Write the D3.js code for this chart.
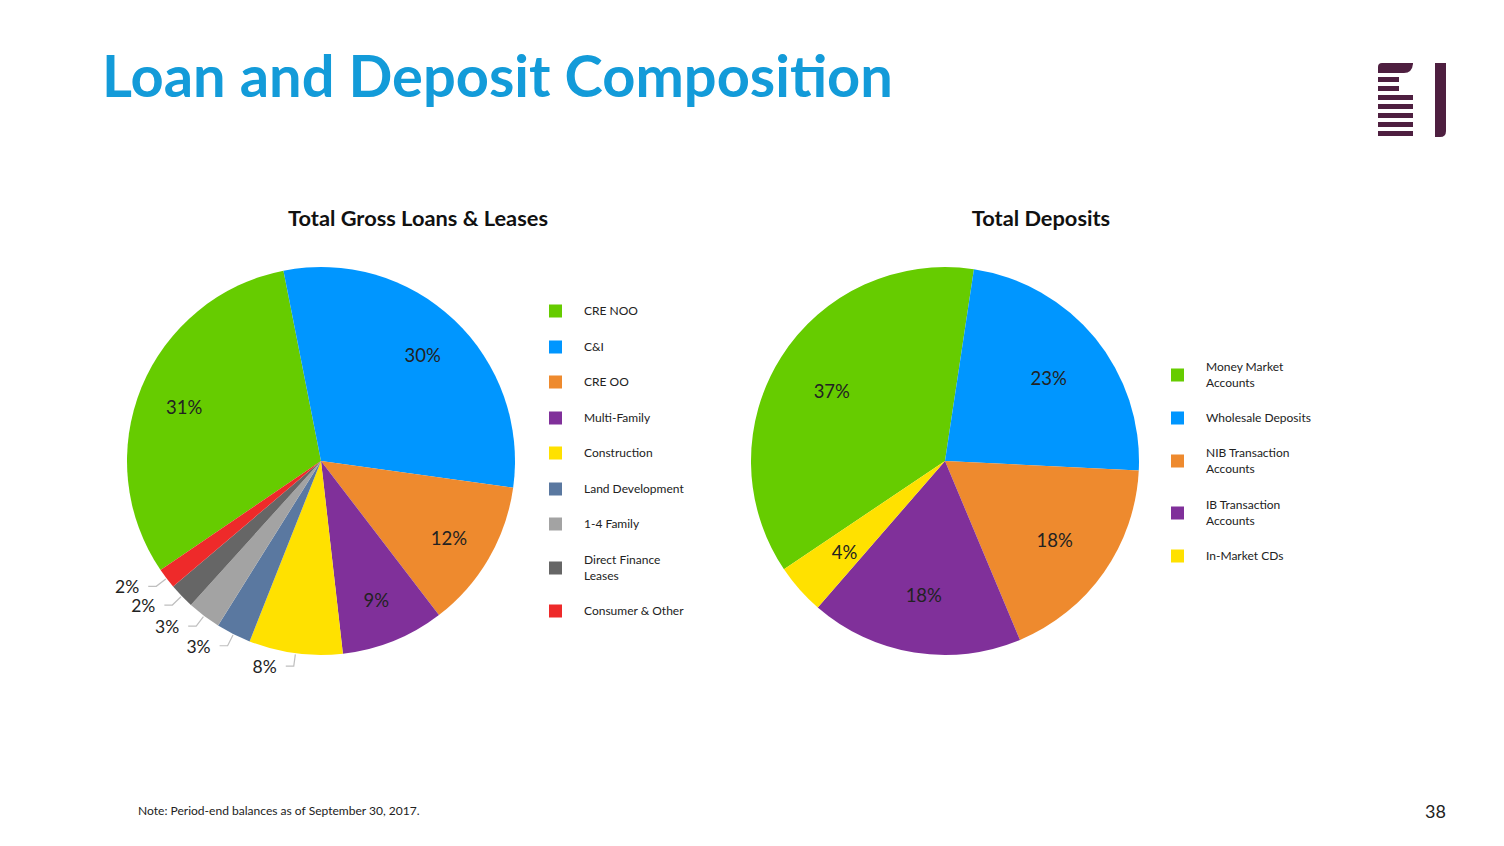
<!DOCTYPE html>
<html>
<head>
<meta charset="utf-8">
<script src="https://cdn.jsdelivr.net/npm/d3@7/dist/d3.min.js"></script>
<style>
html,body{margin:0;padding:0;background:#fff;}
svg{display:block;font-family:Lato,"Open Sans",sans-serif;}
</style>
</head>
<body>
<svg id="c" width="1504" height="846"></svg>
<script>
const loanCategories = ["CRE NOO","C&I","CRE OO","Multi-Family","Construction","Land Development","1-4 Family","Direct Finance Leases","Consumer & Other"];
const loanValues = [31.4,30.3,12.4,8.6,7.8,2.9,2.8,2.1,1.7];
const loanColors = ["#66CC00","#0096FF","#EE8A2E","#80309A","#FFE100","#5A78A0","#A3A3A3","#666666","#EE2A2A"];
const loanLegendLines = [["CRE NOO"],["C&I"],["CRE OO"],["Multi-Family"],["Construction"],["Land Development"],["1-4 Family"],["Direct Finance","Leases"],["Consumer & Other"]];
const loanOutside = [false,false,false,false,true,true,true,true,true];

const depositCategories = ["Money Market Accounts","Wholesale Deposits","NIB Transaction Accounts","IB Transaction Accounts","In-Market CDs"];
const depositValues = [36.8,23.4,17.9,17.7,4.2];
const depositColors = ["#66CC00","#0096FF","#EE8A2E","#80309A","#FFE100"];
const depositLegendLines = [["Money Market","Accounts"],["Wholesale Deposits"],["NIB Transaction","Accounts"],["IB Transaction","Accounts"],["In-Market CDs"]];

const svg = d3.select("#c");
const deg = Math.PI/180;

// Title
const title = svg.append("text").attr("x",102).attr("y",97)
  .attr("fill","#139BD9").attr("font-weight",700).attr("font-size",56)
  .text("Loan and Deposit Composition");
(function fit(){
  const w = title.node().getComputedTextLength();
  title.attr("font-size", 56*791/w);
})();

// Logo
const logo = svg.append("g").attr("fill","#4E1F40");
logo.append("path").attr("d","M1378,73 L1378,67 Q1378,63 1382,63 L1413,63 L1413,64 Q1412,73 1404,73 Z");
[[77,21],[86,21],[95,35],[104,35],[113,35],[122,35],[131,35]].forEach(([y,w])=>{
  logo.append("rect").attr("x",1378).attr("y",y).attr("width",w).attr("height",5);
});
logo.append("path").attr("d","M1435,63 L1446,63 L1446,131 Q1446,137 1440,137 L1435,137 Z");

function fmt(v){ return Math.round(v)+"%"; }

function drawPie(cfg){
  const g = svg.append("g").attr("transform",`translate(${cfg.cx},${cfg.cy})`);
  const pie = d3.pie().sort(null).startAngle(cfg.start*deg).endAngle(cfg.start*deg+2*Math.PI);
  const arcs = pie(cfg.values);
  const arc = d3.arc().innerRadius(0).outerRadius(cfg.r);
  g.selectAll("path.slice").data(arcs).join("path").attr("class","slice")
    .attr("d",arc).attr("fill",(d,i)=>cfg.colors[i]);
  const labelArc = d3.arc().innerRadius(cfg.lr).outerRadius(cfg.lr);
  arcs.forEach((d,i)=>{
    const mid = (d.startAngle+d.endAngle)/2;
    if(cfg.outside && cfg.outside[i]){
      const p0 = [Math.sin(mid)*(cfg.r+1), -Math.cos(mid)*(cfg.r+1)];
      const p1 = [Math.sin(mid)*(cfg.r+13), -Math.cos(mid)*(cfg.r+13)];
      const p2 = [p1[0]-8, p1[1]];
      g.append("polyline").attr("points",[p0,p1,p2].map(p=>p.join(",")).join(" "))
        .attr("fill","none").attr("stroke","#BFBFBF").attr("stroke-width",1.2);
      g.append("text").attr("x",p2[0]-9).attr("y",p2[1]+7)
        .attr("text-anchor","end").attr("font-size",17.5).attr("fill","#222")
        .text(fmt(cfg.values[i]));
    } else {
      const c = labelArc.centroid(d);
      g.append("text").attr("x",c[0]).attr("y",c[1]+9)
        .attr("text-anchor","middle").attr("font-size",18.5).attr("fill","#222")
        .text(fmt(cfg.values[i]));
    }
  });
  svg.append("text").attr("x",cfg.tx).attr("y",226).attr("text-anchor","middle")
    .attr("font-weight",700).attr("font-size",21.8).attr("fill","#111").text(cfg.title);
  const lg = svg.append("g");
  cfg.legendY.forEach((y,i)=>{
    lg.append("rect").attr("x",cfg.lx).attr("y",y-6.5).attr("width",13).attr("height",13).attr("fill",cfg.colors[i]);
    const lines = cfg.legend[i];
    lines.forEach((t,j)=>{
      const ty = y + 4 + (j - (lines.length-1)/2)*16;
      lg.append("text").attr("x",cfg.lx+35).attr("y",ty).attr("font-size",12).attr("fill","#222").text(t);
    });
  });
}

drawPie({cx:321, cy:461, r:194, lr:148, start:235.8, values:loanValues, colors:loanColors,
  outside:loanOutside, title:"Total Gross Loans & Leases", tx:418,
  lx:549, legendY:[311,347,382,418,453,489,524,568,611], legend:loanLegendLines});
drawPie({cx:945, cy:461, r:194, lr:134, start:236.1, values:depositValues, colors:depositColors,
  title:"Total Deposits", tx:1041,
  lx:1171, legendY:[375,418,461,513,556], legend:depositLegendLines});

const note = svg.append("text").attr("x",138).attr("y",815).attr("font-size",12).attr("fill","#222")
  .text("Note: Period-end balances as of September 30, 2017.");
(function fitNote(){
  const w = note.node().getComputedTextLength();
  note.attr("font-size", 12*282/w);
})();
svg.append("text").attr("x",1446).attr("y",818).attr("text-anchor","end").attr("font-size",18).attr("fill","#222").text("38");
</script>
</body>
</html>
